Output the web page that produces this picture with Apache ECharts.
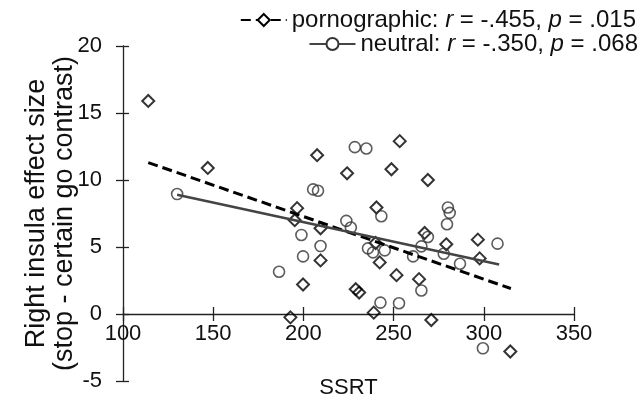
<!DOCTYPE html>
<html>
<head>
<meta charset="utf-8">
<script src="https://cdn.jsdelivr.net/npm/echarts@6/dist/echarts.min.js"></script>
<style>html,body{margin:0;padding:0;background:#fff}#c{width:644px;height:411px}</style>
</head>
<body>
<div id="c"></div>
<script>
// Pornographic (diamonds): [SSRT, effect size]
var pornPoints = [
  [114, 15.9], [147, 10.9], [207.6, 11.85], [253.4, 12.9], [224.2, 10.5],
  [248.8, 10.8], [269.0, 10.0], [196.5, 7.9], [195.2, 7.0], [240.5, 7.95],
  [209.5, 6.4], [209.5, 4.0], [199.8, 2.2], [229, 1.85], [230.9, 1.6],
  [192.8, -0.25], [239, 0.1], [242.3, 3.85], [240, 5.3], [251.6, 2.9],
  [264.1, 2.6], [270.9, -0.45], [267.2, 6.05], [279.2, 5.2], [296.7, 5.55],
  [297.7, 4.15], [314.7, -2.8]
];
// Neutral (circles)
var neutralPoints = [
  [130, 8.95], [186.5, 3.15], [228.5, 12.45], [234.9, 12.35], [205.4, 9.3],
  [208.1, 9.2], [243.2, 7.3], [280.1, 7.95], [281.1, 7.55], [279.6, 6.7],
  [223.8, 6.95], [226.3, 6.45], [198.9, 5.9], [209.5, 5.07], [199.8, 4.3],
  [235.8, 4.9], [238.6, 4.6], [245.1, 4.75], [242.7, 0.85], [253, 0.8],
  [265.4, 1.75], [269, 5.75], [265.4, 5.05], [260.8, 4.3], [277.8, 4.5],
  [286.8, 3.75], [307.6, 5.25], [299.5, -2.56]
];
// Fit lines (endpoints)
var pornFit = [[114, 11.3], [315, 1.9]];
var neutralFit = [[130, 8.9], [308.5, 3.7]];
var pornStats = {r: '-.455', p: '.015'};
var neutralStats = {r: '-.350', p: '.068'};

var FONT = 'Liberation Sans, Arial, sans-serif';
var chart = echarts.init(document.getElementById('c'), null, {renderer: 'canvas'});
var rich = {
  n: {fontFamily: FONT, fontSize: 24, color: '#111'},
  i: {fontFamily: FONT, fontSize: 24, color: '#111', fontStyle: 'italic'}
};
function legendFmt(name) {
  var s = name === 'pornographic' ? pornStats : neutralStats;
  return '{n|' + name + ': }{i|r}{n| = ' + s.r + ', }{i|p}{n| = ' + s.p + '}';
}
var AX = '#222';
var tickStyle = {color: AX, width: 1.3};
chart.setOption({
  animation: false,
  backgroundColor: '#fff',
  grid: [
    // full plotting area (y from -5 to 20)
    {left: 123, right: 70, top: 46, bottom: 30, containLabel: false, outerBoundsMode: 'none'},
    // upper part ending at y = 0, carrying the visible x axis
    {left: 123, right: 70, top: 46, bottom: 97, containLabel: false, outerBoundsMode: 'none'}
  ],
  legend: [
    {data: ['pornographic'], right: 3, top: 3, itemWidth: 46, itemHeight: 15, itemGap: 5,
     formatter: legendFmt, textStyle: {rich: rich}},
    {data: ['neutral'], right: 1, top: 27, itemWidth: 46, itemHeight: 15, itemGap: 5,
     formatter: legendFmt, textStyle: {rich: rich}}
  ],
  xAxis: [{
    gridIndex: 0, type: 'value', min: 100, max: 350, interval: 50, show: false
  }, {
    gridIndex: 1, type: 'value', min: 100, max: 350, interval: 50, position: 'bottom',
    name: 'SSRT', nameLocation: 'middle', nameGap: 63, nameMoveOverlap: false,
    nameTextStyle: {fontFamily: FONT, fontSize: 22, color: '#111'},
    axisLine: {onZero: false, lineStyle: {color: AX, width: 1.3}},
    axisTick: {show: true, length: 7, lineStyle: tickStyle},
    axisLabel: {fontFamily: FONT, fontSize: 22, color: '#111', margin: 9},
    splitLine: {show: false}
  }, {
    gridIndex: 1, type: 'value', min: 100, max: 350, interval: 50, position: 'bottom',
    axisLine: {show: false, onZero: false},
    axisTick: {show: true, inside: true, length: 7, lineStyle: tickStyle},
    axisLabel: {show: false}, splitLine: {show: false}
  }],
  yAxis: [{
    gridIndex: 0, type: 'value', min: -5, max: 20, interval: 5,
    name: 'Right insula effect size\n(stop - certain go contrast)',
    nameLocation: 'middle', nameGap: 44, nameRotate: 90, nameMoveOverlap: false,
    nameTextStyle: {fontFamily: FONT, fontSize: 27, color: '#111', lineHeight: 28},
    axisLine: {show: true, onZero: false, lineStyle: {color: AX, width: 1.3}},
    axisTick: {show: true, length: 7, lineStyle: tickStyle},
    axisLabel: {fontFamily: FONT, fontSize: 22, color: '#111', margin: 21},
    splitLine: {show: false}
  }, {
    gridIndex: 0, type: 'value', min: -5, max: 20, interval: 5, position: 'left',
    axisLine: {show: false, onZero: false},
    axisTick: {show: true, inside: true, length: 6, lineStyle: tickStyle},
    axisLabel: {show: false}, splitLine: {show: false}
  }, {
    gridIndex: 1, type: 'value', min: 0, max: 20, show: false
  }],
  series: [
    {name: 'pornographic', type: 'line', xAxisIndex: 0, yAxisIndex: 0, data: pornFit,
     symbol: 'emptyDiamond', symbolSize: 13, showSymbol: false,
     itemStyle: {color: '#000', borderWidth: 2},
     lineStyle: {color: '#000', width: 3, type: [10, 5]}, z: 3},
    {name: 'neutral', type: 'line', xAxisIndex: 0, yAxisIndex: 0, data: neutralFit,
     symbol: 'emptyCircle', symbolSize: 13, showSymbol: false,
     itemStyle: {color: '#333', borderWidth: 1.8},
     lineStyle: {color: '#444', width: 2.5}, z: 3},
    {name: 'pornographic pts', type: 'scatter', xAxisIndex: 0, yAxisIndex: 0, data: pornPoints,
     symbol: 'diamond', symbolSize: 12,
     itemStyle: {color: 'rgba(0,0,0,0)', borderColor: '#000', borderWidth: 2}, z: 2},
    {name: 'neutral pts', type: 'scatter', xAxisIndex: 0, yAxisIndex: 0, data: neutralPoints,
     symbol: 'circle', symbolSize: 11,
     itemStyle: {color: 'rgba(0,0,0,0)', borderColor: '#333', borderWidth: 1.6}, z: 2}
  ]
});
</script>
</body>
</html>
